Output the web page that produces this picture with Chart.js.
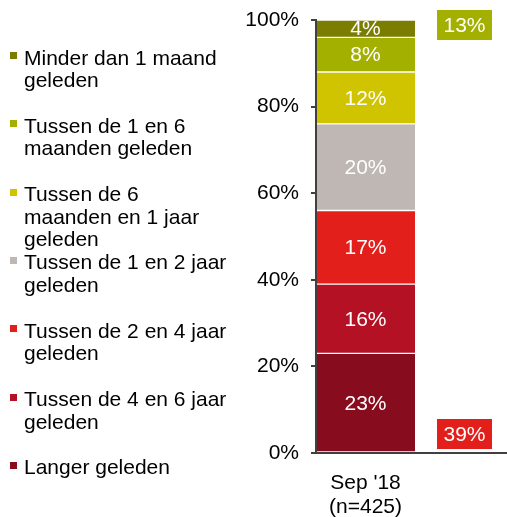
<!DOCTYPE html>
<html><head><meta charset="utf-8">
<script src="https://cdn.jsdelivr.net/npm/chart.js@4.4.1/dist/chart.umd.min.js"></script>
<style>
html,body{margin:0;padding:0;background:#fff;}
#wrap{position:relative;width:507px;height:517px;overflow:hidden;background:#fff;}
#c{position:absolute;left:0;top:0;}
#legend{position:absolute;left:0;top:0;width:250px;height:517px;font-family:"Liberation Sans",Arial,sans-serif;font-size:21px;line-height:22.5px;color:#000;}
.item{position:absolute;left:24px;white-space:nowrap;}
.mark{position:absolute;left:-14px;top:5.5px;width:7px;height:7px;}
</style></head><body>
<div id="wrap"><canvas id="c" width="514" height="517"></canvas><div id="legend"></div></div>
<script>
// ---- data ----
const categories = [["Sep '18", "(n=425)"], ""];
// series listed from bottom of the stack to the top
const seriesLegendLines = [
  ["Langer geleden"],
  ["Tussen de 4 en 6 jaar", "geleden"],
  ["Tussen de 2 en 4 jaar", "geleden"],
  ["Tussen de 1 en 2 jaar", "geleden"],
  ["Tussen de 6", "maanden en 1 jaar", "geleden"],
  ["Tussen de 1 en 6", "maanden geleden"],
  ["Minder dan 1 maand", "geleden"]
];
const langerGeleden = [23];
const tussen4en6Jaar = [16];
const tussen2en4Jaar = [17];
const tussen1en2Jaar = [20];
const tussen6MndEn1Jaar = [12];
const tussen1en6Mnd = [8];
const minderDan1Mnd = [4];
const seriesValues = [langerGeleden, tussen4en6Jaar, tussen2en4Jaar, tussen1en2Jaar, tussen6MndEn1Jaar, tussen1en6Mnd, minderDan1Mnd];
const summaryValues = [13, 39]; // top group (< 6 maanden), bottom group (> 4 jaar)
const yTickValues = [0, 20, 40, 60, 80, 100];

// ---- styles ----
const seriesColors = ["#870C1E", "#B41224", "#E31F1C", "#BEB7B3", "#D0C400", "#A3B000", "#7A7D00"];
const summaryColors = ["#A3B000", "#E31F1C"];
const FONT = '"Liberation Sans", Arial, sans-serif';
const AXIS = "#404040";

Chart.defaults.font.family = FONT;
Chart.defaults.font.size = 21;
Chart.defaults.color = "#000";

const datasets = seriesValues.map((vals, i) => ({
  label: seriesLegendLines[i].join(" "),
  data: vals,
  backgroundColor: seriesColors[i],
  borderColor: "#ffffff",
  borderWidth: {top: 1, bottom: 1, left: 0, right: 0},
  borderSkipped: false,
  barPercentage: 1,
  categoryPercentage: 1
}));

const valueLabels = {
  id: "valueLabels",
  afterDatasetsDraw(chart) {
    const ctx = chart.ctx;
    ctx.save();
    ctx.font = "21px " + FONT;
    ctx.fillStyle = "#fff";
    ctx.textAlign = "center";
    ctx.textBaseline = "middle";
    chart.data.datasets.forEach((ds, di) => {
      const meta = chart.getDatasetMeta(di);
      meta.data.forEach((el, j) => {
        const v = ds.data[j];
        if (v == null) return;
        const p = el.getCenterPoint();
        ctx.fillText(v + "%", p.x, p.y + 1);
      });
    });
    ctx.restore();
  }
};

const summaryBoxes = {
  id: "summaryBoxes",
  afterDraw(chart) {
    const ctx = chart.ctx;
    const x = chart.scales.x.getPixelForValue(1);
    const a = chart.chartArea;
    const centers = [a.top + 5, a.bottom - 19];
    const w = 55, h = 30;
    ctx.save();
    ctx.font = "21px " + FONT;
    ctx.textAlign = "center";
    ctx.textBaseline = "middle";
    summaryValues.forEach((v, i) => {
      ctx.fillStyle = summaryColors[i];
      ctx.fillRect(Math.round(x - w / 2), Math.round(centers[i] - h / 2), w, h);
      ctx.fillStyle = "#fff";
      ctx.fillText(v + "%", x, centers[i] + 1);
    });
    ctx.restore();
  }
};

const chart = new Chart(document.getElementById("c"), {
  type: "bar",
  data: {labels: categories, datasets},
  options: {
    responsive: false,
    animation: false,
    layout: {padding: {left: 234, right: 0, top: 20, bottom: 0}},
    plugins: {legend: {display: false}, tooltip: {enabled: false}},
    scales: {
      x: {
        stacked: true,
        grid: {display: false, drawTicks: false},
        border: {display: true, color: AXIS, width: 2, z: 1},
        ticks: {padding: 18, color: "#000", font: {size: 21, lineHeight: 1.15}, maxRotation: 0, autoSkip: false},
        afterFit(s) { s.height = 64; s.paddingLeft = 0; s.paddingRight = 0; }
      },
      y: {
        stacked: true,
        min: 0, max: 100,
        afterBuildTicks(s) { s.ticks = yTickValues.map(v => ({value: v})); },
        grid: {drawOnChartArea: false, drawTicks: true, tickLength: 5, color: AXIS, lineWidth: 2},
        border: {display: true, color: AXIS, width: 2, z: 1},
        ticks: {padding: 12, color: "#000", font: {size: 21}, callback: v => v + "%"},
        afterFit(s) { s.width = 82; s.paddingTop = 0; s.paddingBottom = 0; }
      }
    }
  },
  plugins: [valueLabels, summaryBoxes]
});

// HTML legend, top of stack first
const legend = document.getElementById("legend");
const order = chart.data.datasets.map((d, i) => i).reverse();
order.forEach((di, k) => {
  const item = document.createElement("div");
  item.className = "item";
  item.style.top = (46.5 + k * 68.3) + "px";
  const m = document.createElement("span");
  m.className = "mark";
  m.style.background = chart.data.datasets[di].backgroundColor;
  item.appendChild(m);
  seriesLegendLines[di].forEach((line, li) => {
    if (li) item.appendChild(document.createElement("br"));
    item.appendChild(document.createTextNode(line));
  });
  legend.appendChild(item);
});
</script>
</body></html>
